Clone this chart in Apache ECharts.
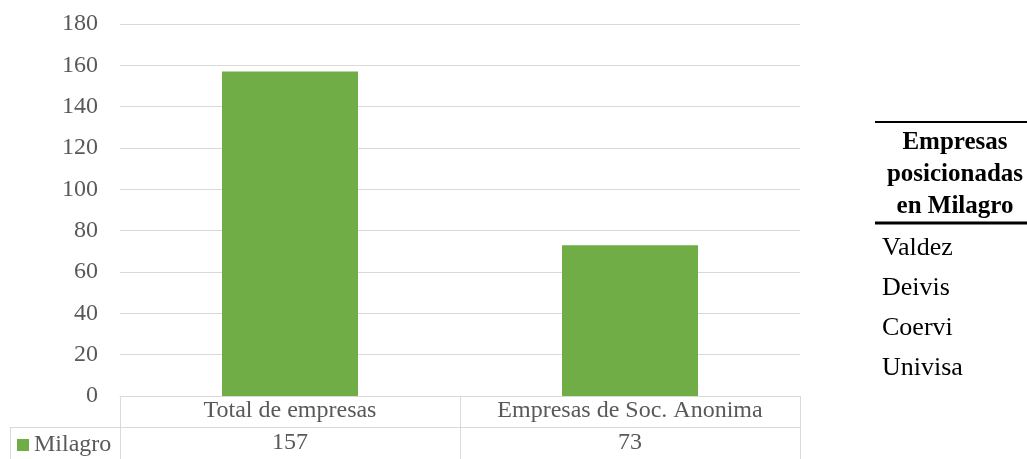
<!DOCTYPE html>
<html>
<head>
<meta charset="utf-8">
<script src="https://cdn.jsdelivr.net/npm/echarts@6/dist/echarts.min.js"></script>
<style>
  html, body { margin: 0; padding: 0; background: #fff; }
  #chart { width: 1027px; height: 459px; }
</style>
</head>
<body>
<div id="chart"></div>
<script>
// datos
const categorias = ["Total de empresas", "Empresas de Soc. Anonima"];
const milagro = [157, 73];
const serieNombre = "Milagro";
const tituloTabla = ["Empresas", "posicionadas", "en Milagro"];
const empresas = ["Valdez", "Deivis", "Coervi", "Univisa"];

const fuente = "'Liberation Serif', 'Times New Roman', serif";
const gris = "#595959";
const linea = "#d9d9d9";

const myChart = echarts.init(document.getElementById("chart"));

// tabla de la derecha
let tabla = [
  { type: "line", shape: { x1: 875, y1: 122, x2: 1027, y2: 122 }, style: { stroke: "#000", lineWidth: 2 } },
  { type: "line", shape: { x1: 875, y1: 223, x2: 1027, y2: 223 }, style: { stroke: "#000", lineWidth: 3 } },
];
tituloTabla.forEach((t, i) => {
  tabla.push({
    type: "text", x: 955, y: 143 + i * 32,
    style: { text: t, font: "bold 25px " + fuente, fill: "#000", align: "center", verticalAlign: "middle" },
  });
});
empresas.forEach((t, i) => {
  tabla.push({
    type: "text", x: 882, y: 248 + i * 40,
    style: { text: t, font: "26px " + fuente, fill: "#000", align: "left", verticalAlign: "middle" },
  });
});

// celda de la leyenda en la tabla de datos
tabla.push(
  { type: "line", shape: { x1: 10, y1: 427.5, x2: 120, y2: 427.5 }, style: { stroke: linea, lineWidth: 1 } },
  { type: "line", shape: { x1: 10.5, y1: 427, x2: 10.5, y2: 459 }, style: { stroke: linea, lineWidth: 1 } }
);

const option = {
  animation: false,
  textStyle: { fontFamily: fuente },
  grid: { left: 120, right: 227, top: 24, bottom: 63 },
  legend: {
    left: 17, top: 433, padding: 0,
    icon: "rect", itemWidth: 12, itemHeight: 12, itemGap: 4,
    textStyle: { fontFamily: fuente, fontSize: 24, color: gris },
    data: [serieNombre],
  },
  xAxis: [
    {
      type: "category",
      data: categorias,
      axisLine: { show: true, lineStyle: { color: linea } },
      axisTick: { show: true, length: 63, lineStyle: { color: linea } },
      axisLabel: { interval: 0, hideOverlap: false, fontFamily: fuente, fontSize: 24, color: gris, margin: 3 },
    },
    {
      type: "category",
      data: categorias,
      position: "bottom",
      offset: 31,
      axisLine: { show: true, lineStyle: { color: linea } },
      axisTick: { show: false },
      axisLabel: {
        interval: 0, hideOverlap: false,
        fontFamily: fuente, fontSize: 24, color: gris, margin: 4,
        formatter: (v, i) => String(milagro[i]),
      },
    },
  ],
  yAxis: {
    type: "value",
    min: 0, max: 180, interval: 20,
    axisLine: { show: false },
    axisTick: { show: false },
    splitLine: { lineStyle: { color: linea } },
    axisLabel: { fontFamily: fuente, fontSize: 24, color: gris, margin: 22 },
  },
  series: [
    {
      name: serieNombre,
      type: "bar",
      data: milagro,
      barWidth: "40%",
      itemStyle: { color: "#70ad47" },
    },
  ],
  graphic: tabla,
};
myChart.setOption(option);
</script>
</body>
</html>
